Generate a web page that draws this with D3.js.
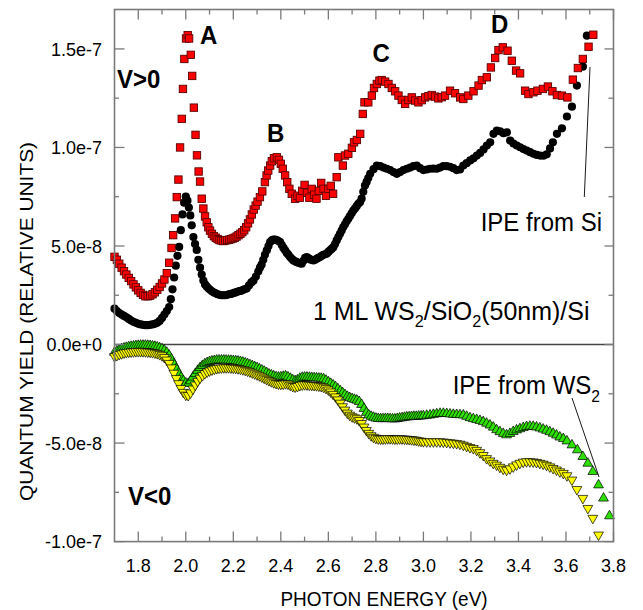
<!DOCTYPE html>
<html><head><meta charset="utf-8">
<script src="https://cdn.jsdelivr.net/npm/d3@7/dist/d3.min.js"></script>
<style>body{margin:0;background:#fff}svg{display:block}</style>
</head><body><svg id="chart" width="643" height="610"></svg>
<script>
// ---- tick definitions ----
const xMajorTicks = [1.8, 2.0, 2.2, 2.4, 2.6, 2.8, 3.0, 3.2, 3.4, 3.6, 3.8];
const xTickLabels = ["1.8", "2.0", "2.2", "2.4", "2.6", "2.8", "3.0", "3.2", "3.4", "3.6", "3.8"];
const xMinorTicks = [1.9, 2.1, 2.3, 2.5, 2.7, 2.9, 3.1, 3.3, 3.5, 3.7];
const yMajorTicks = [-10, -5, 0, 5, 10, 15];           // units of 1e-8
const yTickLabels = ["-1.0e-7", "-5.0e-8", "0.0e+0", "5.0e-8", "1.0e-7", "1.5e-7"];
const yMinorTicks = [-7.5, -2.5, 2.5, 7.5, 12.5];

// ---- data: [photon energy (eV), quantum yield (1e-8 relative units)] ----
const redSquares = [[1.700,4.45],[1.710,4.30],[1.720,4.10],[1.730,3.90],[1.740,3.72],[1.750,3.55],[1.760,3.38],[1.770,3.22],[1.780,3.05],[1.790,2.90],[1.800,2.75],[1.810,2.62],[1.820,2.52],[1.830,2.45],[1.840,2.45],[1.850,2.48],[1.860,2.55],[1.870,2.65],[1.880,2.78],[1.890,2.92],[1.900,3.10],[1.910,3.30],[1.920,3.62],[1.930,4.15],[1.940,4.90],[1.947,5.55],[1.955,6.40],[1.962,7.48],[1.969,8.37],[1.976,10.0],[1.983,11.45],[1.988,12.97],[1.994,14.49],[2.001,15.53],[2.008,15.70],[2.014,15.53],[2.021,14.70],[2.027,13.63],[2.034,12.02],[2.041,10.64],[2.047,9.60],[2.054,8.78],[2.060,8.27],[2.067,7.40],[2.074,6.90],[2.081,6.50],[2.088,6.20],[2.095,5.95],[2.102,5.78],[2.110,5.62],[2.118,5.50],[2.126,5.42],[2.134,5.35],[2.142,5.30],[2.150,5.28],[2.158,5.25],[2.166,5.28],[2.174,5.30],[2.182,5.32],[2.190,5.35],[2.198,5.38],[2.206,5.42],[2.214,5.48],[2.222,5.55],[2.230,5.62],[2.238,5.70],[2.246,5.80],[2.254,5.95],[2.262,6.15],[2.270,6.35],[2.278,6.60],[2.286,6.85],[2.294,7.05],[2.302,7.25],[2.312,7.48],[2.322,7.77],[2.333,8.24],[2.340,8.58],[2.347,8.83],[2.355,9.08],[2.362,9.30],[2.371,9.45],[2.383,9.50],[2.392,9.37],[2.400,9.17],[2.408,8.92],[2.418,8.58],[2.427,8.24],[2.436,7.90],[2.446,7.65],[2.460,7.40],[2.470,7.55],[2.480,7.45],[2.490,7.80],[2.500,8.10],[2.510,7.70],[2.520,7.45],[2.530,7.90],[2.540,7.60],[2.550,7.40],[2.560,7.80],[2.570,8.20],[2.580,7.90],[2.590,7.55],[2.600,7.90],[2.610,8.05],[2.620,7.65],[2.635,8.49],[2.642,9.50],[2.661,9.08],[2.670,9.59],[2.684,9.68],[2.699,9.98],[2.708,10.26],[2.720,10.38],[2.734,10.69],[2.745,11.70],[2.752,12.29],[2.768,12.29],[2.783,12.63],[2.792,13.02],[2.804,13.22],[2.815,13.39],[2.825,13.42],[2.839,13.34],[2.853,13.22],[2.867,13.02],[2.881,12.85],[2.895,12.63],[2.909,12.41],[2.923,12.21],[2.937,12.41],[2.951,12.54],[2.965,12.38],[2.979,12.29],[2.993,12.40],[3.007,12.54],[3.021,12.60],[3.035,12.66],[3.049,12.58],[3.063,12.49],[3.077,12.55],[3.091,12.63],[3.112,12.88],[3.133,12.75],[3.155,12.54],[3.168,12.46],[3.189,12.63],[3.211,12.85],[3.232,13.14],[3.246,13.42],[3.267,13.56],[3.284,14.06],[3.302,14.54],[3.316,14.94],[3.334,15.08],[3.354,14.91],[3.372,14.40],[3.390,13.90],[3.407,13.76],[3.428,12.88],[3.442,12.71],[3.463,12.80],[3.480,12.88],[3.503,12.97],[3.524,13.09],[3.543,12.85],[3.562,12.66],[3.583,12.63],[3.606,12.54],[3.629,13.44],[3.650,14.03],[3.671,14.49],[3.695,15.11],[3.715,15.72]];

const blackCircles = [[1.700,1.82],[1.710,1.70],[1.720,1.60],[1.730,1.52],[1.740,1.45],[1.750,1.38],[1.760,1.30],[1.770,1.22],[1.780,1.15],[1.790,1.10],[1.800,1.05],[1.810,1.02],[1.820,1.00],[1.830,0.98],[1.840,0.98],[1.850,1.00],[1.860,1.02],[1.870,1.05],[1.880,1.10],[1.890,1.20],[1.900,1.35],[1.910,1.52],[1.920,1.70],[1.930,1.90],[1.937,2.30],[1.944,2.80],[1.951,3.40],[1.958,4.00],[1.965,4.50],[1.972,4.95],[1.979,5.80],[1.986,6.60],[1.993,7.20],[2.000,7.50],[2.007,7.30],[2.013,6.95],[2.019,6.55],[2.025,6.05],[2.032,5.45],[2.039,5.10],[2.046,4.80],[2.053,4.30],[2.060,3.90],[2.067,3.55],[2.074,3.25],[2.081,3.05],[2.088,2.95],[2.095,2.85],[2.102,2.78],[2.110,2.70],[2.118,2.64],[2.126,2.60],[2.134,2.55],[2.142,2.52],[2.150,2.50],[2.158,2.50],[2.166,2.50],[2.174,2.52],[2.182,2.55],[2.190,2.57],[2.198,2.60],[2.206,2.63],[2.214,2.66],[2.222,2.70],[2.230,2.72],[2.238,2.75],[2.246,2.80],[2.256,2.84],[2.266,3.00],[2.276,3.15],[2.285,3.25],[2.295,3.45],[2.305,3.70],[2.312,3.90],[2.319,4.05],[2.326,4.30],[2.333,4.55],[2.341,4.78],[2.348,5.00],[2.355,5.20],[2.362,5.28],[2.369,5.32],[2.376,5.32],[2.383,5.30],[2.390,5.25],[2.397,5.20],[2.404,5.05],[2.411,4.90],[2.418,4.78],[2.425,4.65],[2.432,4.55],[2.439,4.44],[2.446,4.35],[2.453,4.27],[2.460,4.22],[2.467,4.18],[2.474,4.15],[2.481,4.12],[2.488,4.10],[2.495,4.25],[2.502,4.40],[2.509,4.44],[2.516,4.38],[2.523,4.32],[2.530,4.30],[2.537,4.27],[2.544,4.30],[2.551,4.35],[2.558,4.40],[2.565,4.44],[2.572,4.50],[2.579,4.55],[2.586,4.58],[2.593,4.61],[2.600,4.70],[2.607,4.78],[2.614,4.85],[2.621,4.94],[2.628,5.10],[2.635,5.28],[2.642,5.45],[2.649,5.62],[2.656,5.78],[2.663,5.96],[2.670,6.10],[2.677,6.25],[2.684,6.38],[2.691,6.52],[2.698,6.66],[2.705,6.80],[2.712,6.90],[2.719,7.02],[2.726,7.14],[2.733,7.22],[2.740,7.40],[2.747,7.75],[2.754,8.07],[2.761,8.25],[2.768,8.45],[2.776,8.66],[2.790,8.90],[2.804,9.08],[2.818,9.05],[2.832,8.98],[2.846,8.92],[2.860,8.85],[2.874,8.75],[2.888,8.66],[2.902,8.75],[2.916,8.85],[2.930,8.92],[2.944,8.98],[2.958,9.05],[2.972,9.08],[2.986,8.95],[3.000,8.85],[3.014,8.88],[3.028,8.92],[3.042,8.93],[3.056,8.92],[3.070,8.98],[3.084,9.05],[3.098,9.05],[3.112,9.02],[3.126,8.95],[3.140,8.85],[3.154,8.88],[3.168,9.08],[3.182,9.20],[3.197,9.34],[3.211,9.45],[3.225,9.59],[3.239,9.72],[3.253,9.90],[3.267,10.10],[3.281,10.26],[3.295,10.69],[3.309,10.85],[3.323,10.82],[3.337,10.72],[3.351,10.77],[3.365,10.35],[3.379,10.20],[3.393,10.10],[3.407,10.01],[3.421,9.92],[3.435,9.84],[3.449,9.76],[3.463,9.68],[3.477,9.62],[3.491,9.59],[3.505,9.58],[3.519,9.65],[3.533,9.95],[3.545,10.26],[3.562,10.69],[3.583,10.97],[3.604,11.57],[3.625,12.07],[3.646,13.14],[3.671,14.10],[3.688,15.67]];

const greenUpTriangles = [[1.70,-0.40],[1.71,-0.34],[1.72,-0.28],[1.73,-0.22],[1.74,-0.18],[1.75,-0.15],[1.76,-0.12],[1.77,-0.10],[1.78,-0.08],[1.79,-0.06],[1.80,-0.05],[1.81,-0.04],[1.82,-0.04],[1.83,-0.04],[1.84,-0.05],[1.85,-0.06],[1.86,-0.08],[1.87,-0.10],[1.88,-0.13],[1.89,-0.17],[1.90,-0.22],[1.91,-0.30],[1.92,-0.40],[1.93,-0.55],[1.94,-0.75],[1.95,-0.98],[1.96,-1.22],[1.97,-1.45],[1.98,-1.66],[1.99,-1.84],[2.00,-1.96],[2.01,-1.98],[2.02,-1.85],[2.03,-1.66],[2.04,-1.48],[2.05,-1.32],[2.06,-1.18],[2.07,-1.07],[2.08,-0.98],[2.09,-0.92],[2.10,-0.87],[2.11,-0.84],[2.12,-0.82],[2.13,-0.80],[2.14,-0.79],[2.15,-0.79],[2.16,-0.79],[2.17,-0.80],[2.18,-0.80],[2.19,-0.81],[2.20,-0.82],[2.21,-0.83],[2.22,-0.85],[2.23,-0.87],[2.24,-0.90],[2.25,-0.94],[2.26,-0.98],[2.27,-1.03],[2.28,-1.08],[2.29,-1.13],[2.30,-1.18],[2.31,-1.24],[2.32,-1.30],[2.33,-1.36],[2.34,-1.43],[2.35,-1.50],[2.36,-1.55],[2.37,-1.60],[2.38,-1.64],[2.39,-1.66],[2.40,-1.65],[2.41,-1.62],[2.42,-1.60],[2.43,-1.65],[2.44,-1.72],[2.45,-1.80],[2.46,-1.84],[2.47,-1.80],[2.48,-1.72],[2.49,-1.67],[2.50,-1.66],[2.51,-1.66],[2.52,-1.67],[2.53,-1.68],[2.54,-1.69],[2.55,-1.70],[2.56,-1.71],[2.57,-1.72],[2.58,-1.75],[2.59,-1.82],[2.60,-1.90],[2.61,-1.98],[2.62,-2.06],[2.63,-2.15],[2.64,-2.25],[2.65,-2.35],[2.66,-2.45],[2.67,-2.55],[2.68,-2.64],[2.69,-2.70],[2.70,-2.75],[2.71,-2.79],[2.72,-2.83],[2.73,-2.90],[2.74,-3.05],[2.75,-3.25],[2.76,-3.45],[2.77,-3.58],[2.78,-3.65],[2.79,-3.70],[2.80,-3.74],[2.81,-3.76],[2.82,-3.77],[2.83,-3.77],[2.84,-3.76],[2.85,-3.76],[2.86,-3.77],[2.87,-3.78],[2.88,-3.78],[2.89,-3.76],[2.90,-3.74],[2.91,-3.72],[2.92,-3.70],[2.93,-3.68],[2.94,-3.67],[2.95,-3.66],[2.96,-3.65],[2.97,-3.65],[2.98,-3.64],[2.99,-3.63],[3.00,-3.62],[3.014,-3.60],[3.028,-3.58],[3.042,-3.55],[3.056,-3.52],[3.070,-3.50],[3.084,-3.50],[3.098,-3.51],[3.112,-3.53],[3.126,-3.55],[3.140,-3.56],[3.154,-3.57],[3.168,-3.58],[3.182,-3.65],[3.196,-3.72],[3.210,-3.77],[3.224,-3.81],[3.238,-3.86],[3.252,-3.92],[3.266,-4.00],[3.280,-4.09],[3.294,-4.20],[3.308,-4.33],[3.322,-4.43],[3.336,-4.52],[3.350,-4.59],[3.364,-4.52],[3.378,-4.42],[3.392,-4.34],[3.406,-4.28],[3.420,-4.22],[3.434,-4.17],[3.448,-4.15],[3.462,-4.16],[3.476,-4.19],[3.490,-4.24],[3.504,-4.30],[3.518,-4.36],[3.532,-4.43],[3.546,-4.51],[3.560,-4.60],[3.574,-4.70],[3.589,-4.78],[3.604,-4.90],[3.625,-5.10],[3.648,-5.35],[3.671,-5.69],[3.692,-6.03],[3.713,-6.45],[3.737,-7.13],[3.758,-7.80],[3.783,-8.70]];

const yellowDownTriangles = [[1.70,-0.60],[1.71,-0.55],[1.72,-0.50],[1.73,-0.46],[1.74,-0.42],[1.75,-0.40],[1.76,-0.38],[1.77,-0.37],[1.78,-0.36],[1.79,-0.35],[1.80,-0.35],[1.81,-0.35],[1.82,-0.35],[1.83,-0.36],[1.84,-0.37],[1.85,-0.38],[1.86,-0.40],[1.87,-0.42],[1.88,-0.45],[1.89,-0.50],[1.90,-0.56],[1.91,-0.65],[1.92,-0.78],[1.93,-0.95],[1.94,-1.18],[1.95,-1.45],[1.96,-1.72],[1.97,-1.98],[1.98,-2.22],[1.99,-2.42],[2.00,-2.56],[2.01,-2.58],[2.02,-2.45],[2.03,-2.25],[2.04,-2.05],[2.05,-1.86],[2.06,-1.70],[2.07,-1.57],[2.08,-1.47],[2.09,-1.39],[2.10,-1.33],[2.11,-1.28],[2.12,-1.24],[2.13,-1.21],[2.14,-1.19],[2.15,-1.18],[2.16,-1.17],[2.17,-1.17],[2.18,-1.17],[2.19,-1.18],[2.20,-1.19],[2.21,-1.20],[2.22,-1.22],[2.23,-1.24],[2.24,-1.27],[2.25,-1.30],[2.26,-1.34],[2.27,-1.38],[2.28,-1.43],[2.29,-1.48],[2.30,-1.53],[2.31,-1.58],[2.32,-1.64],[2.33,-1.70],[2.34,-1.76],[2.35,-1.82],[2.36,-1.88],[2.37,-1.93],[2.38,-1.97],[2.39,-2.00],[2.40,-2.01],[2.41,-2.00],[2.42,-1.98],[2.43,-2.00],[2.44,-2.06],[2.45,-2.12],[2.46,-2.15],[2.47,-2.12],[2.48,-2.07],[2.49,-2.04],[2.50,-2.03],[2.51,-2.04],[2.52,-2.05],[2.53,-2.06],[2.54,-2.07],[2.55,-2.08],[2.56,-2.10],[2.57,-2.12],[2.58,-2.16],[2.59,-2.22],[2.60,-2.30],[2.61,-2.40],[2.62,-2.52],[2.63,-2.65],[2.64,-2.80],[2.65,-2.97],[2.66,-3.15],[2.67,-3.32],[2.68,-3.47],[2.69,-3.58],[2.70,-3.66],[2.71,-3.71],[2.72,-3.76],[2.73,-3.85],[2.74,-4.00],[2.75,-4.18],[2.76,-4.35],[2.77,-4.50],[2.78,-4.62],[2.79,-4.70],[2.80,-4.75],[2.81,-4.78],[2.82,-4.79],[2.83,-4.79],[2.84,-4.78],[2.85,-4.77],[2.86,-4.77],[2.87,-4.78],[2.88,-4.79],[2.89,-4.79],[2.90,-4.78],[2.91,-4.78],[2.92,-4.79],[2.93,-4.80],[2.94,-4.81],[2.95,-4.82],[2.96,-4.84],[2.97,-4.85],[2.98,-4.88],[2.99,-4.90],[3.00,-4.92],[3.014,-4.93],[3.028,-4.93],[3.042,-4.93],[3.056,-4.93],[3.070,-4.93],[3.084,-4.94],[3.098,-4.96],[3.112,-4.98],[3.126,-5.00],[3.140,-5.02],[3.154,-5.05],[3.168,-5.10],[3.182,-5.16],[3.196,-5.22],[3.210,-5.27],[3.224,-5.36],[3.238,-5.48],[3.252,-5.62],[3.266,-5.78],[3.280,-5.90],[3.294,-6.02],[3.308,-6.11],[3.322,-6.22],[3.336,-6.32],[3.350,-6.37],[3.364,-6.30],[3.378,-6.20],[3.392,-6.10],[3.406,-6.02],[3.420,-5.96],[3.434,-5.94],[3.448,-5.94],[3.462,-5.95],[3.476,-5.98],[3.490,-6.02],[3.504,-6.06],[3.518,-6.12],[3.532,-6.20],[3.546,-6.28],[3.560,-6.36],[3.574,-6.45],[3.589,-6.53],[3.604,-6.65],[3.625,-6.87],[3.646,-7.35],[3.671,-7.80],[3.692,-8.31],[3.713,-8.81],[3.737,-9.66]];

// ---- layout ----
const svg = d3.select("#chart");
const FONT = "'Liberation Sans', Arial, Helvetica, sans-serif";
const pL = 114.5, pR = 613.5, pT = 9.5, pB = 541.6;
const x = d3.scaleLinear().domain([1.7, 3.8]).range([pL, pR]);
const y = d3.scaleLinear().domain([-10, 17]).range([pB, pT]);
const AX = "#7a7a7a";

// zero line
svg.append("line").attr("x1", pL).attr("x2", pR)
  .attr("y1", y(0)).attr("y2", y(0)).attr("stroke", "#444").attr("stroke-width", 1.4);

// data marks
svg.append("g").selectAll("circle").data(blackCircles).join("circle")
  .attr("cx", d => x(d[0])).attr("cy", d => y(d[1])).attr("r", 4.1).attr("fill", "#000");

const SQ = 7.4;
svg.append("g").selectAll("rect").data(redSquares).join("rect")
  .attr("x", d => x(d[0]) - SQ / 2).attr("y", d => y(d[1]) - SQ / 2)
  .attr("width", SQ).attr("height", SQ)
  .attr("fill", "#ff0000").attr("stroke", "#5a0000").attr("stroke-width", 0.9);

const tri = d3.symbol().type(d3.symbolTriangle).size(42);
svg.append("g").selectAll("path").data(greenUpTriangles).join("path")
  .attr("d", tri).attr("transform", d => `translate(${x(d[0])},${y(d[1])})`)
  .attr("fill", "#2ee000").attr("stroke", "#000").attr("stroke-width", 0.7);

svg.append("g").selectAll("path").data(yellowDownTriangles).join("path")
  .attr("d", tri).attr("transform", d => `translate(${x(d[0])},${y(d[1])}) rotate(180)`)
  .attr("fill", "#ffff00").attr("stroke", "#000").attr("stroke-width", 0.7);

// frame
svg.append("rect").attr("x", pL).attr("y", pT).attr("width", pR - pL).attr("height", pB - pT)
  .attr("fill", "none").attr("stroke", AX).attr("stroke-width", 1.6);

// ticks (inward on all sides)
const tk = svg.append("g").attr("stroke", AX).attr("stroke-width", 1.3);
xMajorTicks.forEach(v => {
  tk.append("line").attr("x1", x(v)).attr("x2", x(v)).attr("y1", pB).attr("y2", pB - 10);
  tk.append("line").attr("x1", x(v)).attr("x2", x(v)).attr("y1", pT).attr("y2", pT + 10);
});
xMinorTicks.forEach(v => {
  tk.append("line").attr("x1", x(v)).attr("x2", x(v)).attr("y1", pB).attr("y2", pB - 5);
  tk.append("line").attr("x1", x(v)).attr("x2", x(v)).attr("y1", pT).attr("y2", pT + 5);
});
yMajorTicks.forEach(v => {
  tk.append("line").attr("x1", pL).attr("x2", pL + 10).attr("y1", y(v)).attr("y2", y(v));
  tk.append("line").attr("x1", pR).attr("x2", pR - 9).attr("y1", y(v)).attr("y2", y(v));
});
yMinorTicks.forEach(v => {
  tk.append("line").attr("x1", pL).attr("x2", pL + 4.5).attr("y1", y(v)).attr("y2", y(v));
  tk.append("line").attr("x1", pR).attr("x2", pR - 5).attr("y1", y(v)).attr("y2", y(v));
});

// text helper: parts = [[text, isSub]]
function label(px, py, parts, opt) {
  const o = Object.assign({size: 18, weight: "normal", anchor: "start", sx: 1, sy: 1, rot: 0}, opt);
  const t = svg.append("text")
    .attr("transform", `translate(${px},${py}) rotate(${o.rot}) scale(${o.sx},${o.sy})`)
    .attr("font-family", FONT).attr("font-size", o.size).attr("font-weight", o.weight)
    .attr("text-anchor", o.anchor).attr("fill", "#000");
  const shift = o.size * 0.28;
  let lowered = false;
  parts.forEach(p => {
    const sp = t.append("tspan").text(p[0]);
    if (p[1]) {
      sp.attr("font-size", o.size * 0.65).attr("dy", shift);
      lowered = true;
    } else if (lowered) {
      sp.attr("dy", -shift);
      lowered = false;
    }
  });
  return t;
}

// tick labels
yMajorTicks.forEach((v, i) => label(102, y(v) + 6.6, [[yTickLabels[i]]], {anchor: "end", size: 18, sy: 1.03}));
xMajorTicks.forEach((v, i) => label(x(v), 571.5, [[xTickLabels[i]]], {anchor: "middle", size: 18, sy: 1.03}));

// axis titles
label(384, 606, [["PHOTON ENERGY (eV)"]], {anchor: "middle", size: 19, sy: 1.1});
label(33, 321.5, [["QUANTUM YIELD (RELATIVE UNITS)"]], {anchor: "middle", size: 19, rot: -90, sx: 1.1});

// peak labels
label(200, 44, [["A"]], {size: 24, weight: "bold", sy: 1.1});
label(267, 141.7, [["B"]], {size: 24, weight: "bold", sy: 1.1});
label(372.5, 61.7, [["C"]], {size: 24, weight: "bold", sy: 1.1});
label(491, 33.3, [["D"]], {size: 24, weight: "bold", sy: 1.1});
label(117, 88.3, [["V>0"]], {size: 24, weight: "bold", sy: 1.1});
label(128, 505, [["V<0"]], {size: 24, weight: "bold", sy: 1.1});

// annotations
label(602, 230.7, [["IPE from Si"]], {anchor: "end", size: 24, sy: 1.1});
label(313, 319.5, [["1 ML WS"], ["2", true], ["/SiO"], ["2", true], ["(50nm)/Si"]], {size: 24, sx: 1.04, sy: 1.1});
label(600, 394.3, [["IPE from WS"], ["2", true]], {anchor: "end", size: 24, sy: 1.1});

// pointer lines
svg.append("line").attr("x1", 590).attr("y1", 67).attr("x2", 584.3).attr("y2", 197)
  .attr("stroke", "#000").attr("stroke-width", 0.9);
svg.append("line").attr("x1", 572).attr("y1", 398).attr("x2", 599).attr("y2", 477)
  .attr("stroke", "#000").attr("stroke-width", 0.9);
</script></body></html>
